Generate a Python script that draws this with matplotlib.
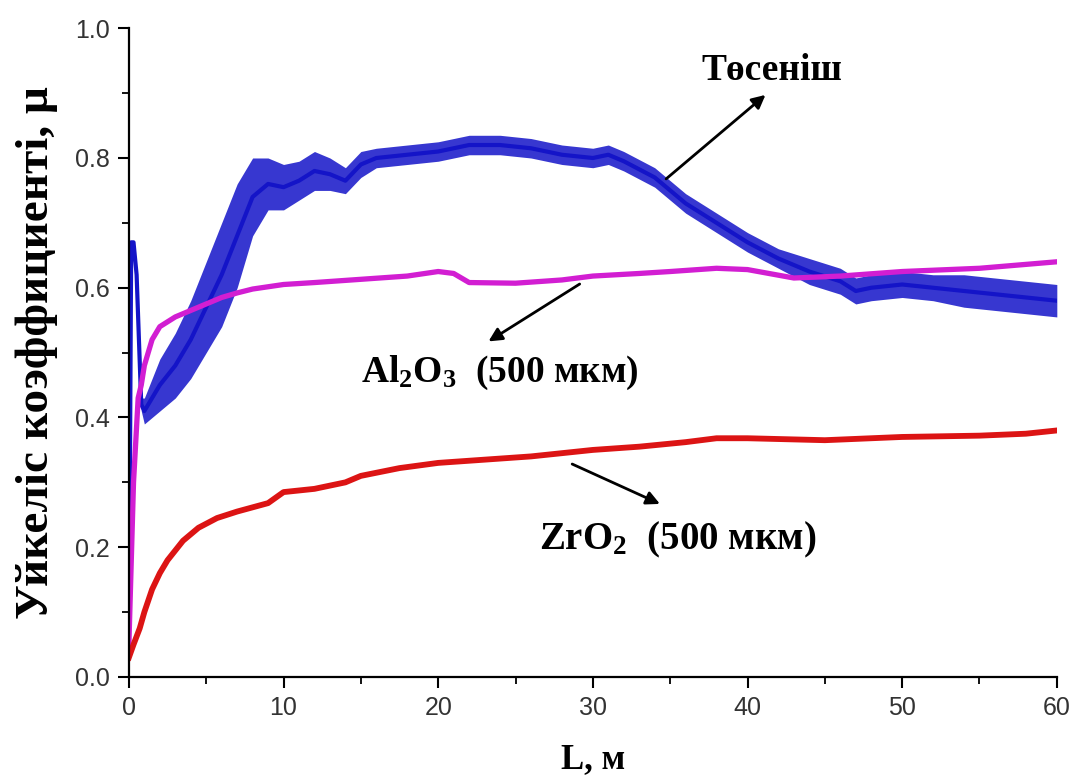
import matplotlib
matplotlib.use("Agg")
import matplotlib.pyplot as plt
from matplotlib.ticker import MultipleLocator

# ---- data ----
blue_x = [0, 0.15, 0.3, 0.5, 0.8, 1.0, 1.5, 2, 3, 4, 5, 6, 7, 8, 9, 10, 11, 12, 13, 14,
          15, 16, 18, 20, 22, 24, 26, 28, 30, 31, 32, 34, 36, 38, 40, 42, 44, 46, 47,
          48, 50, 52, 54, 56, 58, 60]
blue_y = [0.03, 0.67, 0.67, 0.62, 0.42, 0.41, 0.43, 0.45, 0.48, 0.52, 0.57, 0.62, 0.68,
          0.74, 0.76, 0.755, 0.765, 0.78, 0.775, 0.765, 0.79, 0.80, 0.805, 0.81, 0.82,
          0.82, 0.815, 0.805, 0.80, 0.805, 0.795, 0.77, 0.73, 0.70, 0.67, 0.645, 0.625,
          0.61, 0.595, 0.60, 0.605, 0.60, 0.595, 0.59, 0.585, 0.58]
# half-width of the noisy band around the blue trace
blue_spread = [0, 0, 0, 0, 0.01, 0.02, 0.03, 0.04, 0.05, 0.06, 0.07, 0.08, 0.08, 0.06,
               0.04, 0.035, 0.03, 0.03, 0.025, 0.02, 0.02, 0.015, 0.015, 0.015, 0.015,
               0.015, 0.015, 0.015, 0.015, 0.015, 0.015, 0.015, 0.015, 0.015, 0.015,
               0.015, 0.02, 0.02, 0.02, 0.02, 0.02, 0.02, 0.025, 0.025, 0.025, 0.025]

al_x = [0, 0.3, 0.6, 0.8, 1.0, 1.5, 2, 3, 4, 5, 6, 7, 8, 10, 12, 15, 18, 20, 21, 22, 25,
        28, 30, 33, 35, 38, 40, 43, 46, 50, 55, 60]
al_y = [0.05, 0.30, 0.43, 0.45, 0.48, 0.52, 0.54, 0.555, 0.565, 0.575, 0.585, 0.592,
        0.598, 0.605, 0.608, 0.613, 0.618, 0.625, 0.622, 0.608, 0.607, 0.612, 0.618,
        0.622, 0.625, 0.63, 0.628, 0.615, 0.618, 0.625, 0.63, 0.64]

zr_x = [0, 0.3, 0.7, 1, 1.5, 2, 2.5, 3.5, 4.5, 5.7, 7, 9, 10, 12, 14, 15, 17.5, 20, 23,
        26, 28, 30, 33, 36, 38, 40, 45, 50, 55, 58, 60]
zr_y = [0.03, 0.05, 0.075, 0.10, 0.135, 0.16, 0.18, 0.21, 0.23, 0.245, 0.255, 0.268,
        0.285, 0.29, 0.30, 0.31, 0.322, 0.33, 0.335, 0.34, 0.345, 0.35, 0.355, 0.362,
        0.368, 0.368, 0.365, 0.37, 0.372, 0.375, 0.38]

BLUE = "#1414c8"
MAGENTA = "#d21ed2"
RED = "#dc1414"

SERIF = ["Liberation Serif", "DejaVu Serif"]
plt.rcParams["mathtext.fontset"] = "custom"
plt.rcParams["mathtext.rm"] = "Liberation Serif:bold"
plt.rcParams["mathtext.it"] = "Liberation Serif:bold"
plt.rcParams["mathtext.bf"] = "Liberation Serif:bold"


def main() -> int:
    fig = plt.figure(figsize=(10.74, 7.76), dpi=100)
    ax = fig.add_axes([0.120, 0.1276, 0.864, 0.836])

    blue_lo = [y - s for y, s in zip(blue_y, blue_spread)]
    blue_hi = [y + s for y, s in zip(blue_y, blue_spread)]
    ax.fill_between(blue_x, blue_lo, blue_hi, color=BLUE, alpha=0.85, lw=0)
    ax.plot(blue_x, blue_y, color=BLUE, lw=3.0)
    ax.plot(al_x, al_y, color=MAGENTA, lw=3.8)
    ax.plot(zr_x, zr_y, color=RED, lw=4.2)

    ax.set_xlim(0, 60)
    ax.set_ylim(0, 1.0)
    ax.xaxis.set_major_locator(MultipleLocator(10))
    ax.xaxis.set_minor_locator(MultipleLocator(5))
    ax.yaxis.set_major_locator(MultipleLocator(0.2))
    ax.yaxis.set_minor_locator(MultipleLocator(0.1))
    ax.yaxis.set_major_formatter(plt.FuncFormatter(lambda v, p: f"{v:.1f}"))
    for s in ("top", "right"):
        ax.spines[s].set_visible(False)
    for s in ("left", "bottom"):
        ax.spines[s].set_linewidth(1.6)
    ax.tick_params(which="major", direction="out", length=8, width=1.5,
                   labelsize=18, labelcolor="#333333", pad=6)
    ax.tick_params(which="minor", direction="out", length=5, width=1.3)
    for lab in ax.get_xticklabels() + ax.get_yticklabels():
        lab.set_family(["Liberation Sans", "DejaVu Sans"])

    ax.set_xlabel("L, м", family=SERIF, fontweight="bold", fontsize=25, labelpad=16)
    ax.set_ylabel("Уйкеліс коэффициенті, μ", family=SERIF, fontweight="bold",
                  fontsize=34, labelpad=12)

    arrow = dict(arrowstyle="-|>", color="black", lw=2.0, mutation_scale=20)
    ax.annotate("", xy=(41.3, 0.90), xytext=(34.6, 0.765), arrowprops=arrow)
    ax.annotate("", xy=(23.1, 0.515), xytext=(29.3, 0.608), arrowprops=arrow)
    ax.annotate("", xy=(34.5, 0.265), xytext=(28.5, 0.33), arrowprops=arrow)

    txt = dict(family=SERIF, fontweight="bold", ha="center", va="center")
    ax.text(41.6, 0.935, "Төсеніш", fontsize=27, **txt)
    ax.text(24.0, 0.468, "Al$_2$O$_3$  (500 мкм)", fontsize=27, **txt)
    ax.text(35.5, 0.212, "ZrO$_2$  (500 мкм)", fontsize=28, **txt)

    fig.savefig("out.png", dpi=100)
    plt.close(fig)
    return 0


if __name__ == "__main__":
    raise SystemExit(main())
